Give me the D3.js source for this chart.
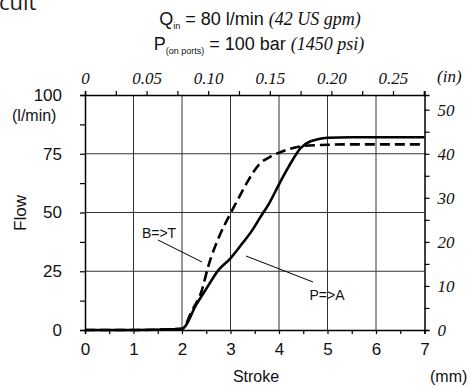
<!DOCTYPE html>
<html>
<head>
<meta charset="utf-8">
<script src="https://cdn.jsdelivr.net/npm/d3@7"></script>
<style>
  body { margin: 0; background: #fff; }
  svg { display: block; }
</style>
</head>
<body>
<script>
// Flow vs spool stroke chart

const w = 470;
const h = 387;

// plot area edges
const plotL = 85, plotR = 424.5, plotT = 95, plotB = 330;

// data (stroke in mm, flow in l/min)
const strokePA = [0, 1, 1.8, 2, 2.3, 2.5, 2.75, 3.0, 3.25, 3.45, 3.6, 3.8, 4.0, 4.2, 4.45, 4.65, 4.8, 5.0, 5.5, 6, 7];
const flowPA   = [0, 0, 0.3, 0.5, 11, 17.5, 25.5, 30.5, 37, 42.5, 47.5, 54, 62, 69.5, 77.5, 80.3, 81.2, 81.8, 82, 82, 82];

const strokeBT = [0, 1, 2, 2.2, 2.41, 2.54, 2.78, 3.0, 3.2, 3.37, 3.61, 3.8, 4.02, 4.5, 4.85, 5.5, 7];
const flowBT   = [0, 0, 0.5, 8, 17, 27, 40.4, 49.6, 57.4, 63.8, 70.9, 73.5, 75.6, 78.3, 78.7, 79, 79];

// tick values
const mmTicks = [0, 1, 2, 3, 4, 5, 6, 7];
const mmMinor = [0.5, 1.5, 2.5, 3.5, 4.5, 5.5, 6.5];
const flowTicks = [0, 25, 50, 75, 100];
const flowMinor = [12.5, 37.5, 62.5, 87.5];
const inTicks = [0, 0.05, 0.10, 0.15, 0.20, 0.25];
const inMinor = [0.025, 0.075, 0.125, 0.175, 0.225, 0.275];
const gpmTicks = [0, 10, 20, 30, 40, 50];
const gpmMinor = [5, 15, 25, 35, 45];

const sans = "'Liberation Sans', Arial, sans-serif";
const serif = "'Liberation Serif', 'Times New Roman', serif";

const svg = d3.select("body")
  .append("svg")
  .attr("width", w)
  .attr("height", h);

// scales
const xScale = d3.scaleLinear().domain([0, 7]).range([plotL, plotR]);
const yScale = d3.scaleLinear().domain([0, 100]).range([plotB, plotT]);
const xIn = d3.scaleLinear().domain([0, 7 / 25.4]).range([plotL, plotR]);
const yGpm = d3.scaleLinear().domain([0, 40 * 100 / 75]).range([plotB, plotT]);

// grid
svg.append("g")
  .selectAll("line")
  .data(mmTicks.slice(1, -1))
  .enter()
  .append("line")
  .attr("x1", d => xScale(d)).attr("x2", d => xScale(d))
  .attr("y1", plotT).attr("y2", plotB)
  .attr("stroke", "#333").attr("stroke-width", 1);

svg.append("g")
  .selectAll("line")
  .data(flowTicks.slice(1, -1))
  .enter()
  .append("line")
  .attr("y1", d => yScale(d)).attr("y2", d => yScale(d))
  .attr("x1", plotL).attr("x2", plotR)
  .attr("stroke", "#333").attr("stroke-width", 1);

// axes helper
function styleAxis(g) {
  g.selectAll(".domain").attr("stroke", "#000").attr("stroke-width", 1.5);
  g.selectAll(".tick line").attr("stroke", "#000").attr("stroke-width", 1.2);
}

// bottom
const bottomAxis = d3.axisBottom(xScale).tickValues(mmTicks).tickSize(4).tickPadding(9).tickFormat(d3.format("d"));
const gBottom = svg.append("g").attr("transform", "translate(0," + plotB + ")").call(bottomAxis);
gBottom.call(styleAxis);
gBottom.selectAll("text").style("font-family", sans).style("font-size", "17px").attr("fill", "#111");
svg.append("g").attr("transform", "translate(0," + plotB + ")")
  .call(d3.axisBottom(xScale).tickValues(mmMinor).tickSize(4).tickFormat(""))
  .call(styleAxis)
  .select(".domain").remove();

// left
const leftAxis = d3.axisLeft(yScale).tickValues(flowTicks).tickSize(5).tickPadding(18);
const gLeft = svg.append("g").attr("transform", "translate(" + plotL + ",0)").call(leftAxis);
gLeft.call(styleAxis);
gLeft.selectAll("text").style("font-family", sans).style("font-size", "17px").attr("fill", "#111");
svg.append("g").attr("transform", "translate(" + plotL + ",0)")
  .call(d3.axisLeft(yScale).tickValues(flowMinor).tickSize(5).tickFormat(""))
  .call(styleAxis)
  .select(".domain").remove();

// top (inches)
const topAxis = d3.axisTop(xIn).tickValues(inTicks).tickSize(4).tickPadding(7)
  .tickFormat(d => d === 0 ? "0" : d3.format(".2f")(d));
const gTop = svg.append("g").attr("transform", "translate(0," + plotT + ")").call(topAxis);
gTop.call(styleAxis);
gTop.selectAll("text").style("font-family", serif).style("font-style", "italic").style("font-size", "17px").attr("fill", "#111");
svg.append("g").attr("transform", "translate(0," + plotT + ")")
  .call(d3.axisTop(xIn).tickValues(inMinor).tickSize(4).tickFormat(""))
  .call(styleAxis)
  .select(".domain").remove();

// right (US gpm)
const rightAxis = d3.axisRight(yGpm).tickValues(gpmTicks).tickSize(5).tickPadding(8);
const gRight = svg.append("g").attr("transform", "translate(" + plotR + ",0)").call(rightAxis);
gRight.call(styleAxis);
gRight.selectAll("text").style("font-family", serif).style("font-style", "italic").style("font-size", "17px").attr("fill", "#111");
svg.append("g").attr("transform", "translate(" + plotR + ",0)")
  .call(d3.axisRight(yGpm).tickValues(gpmMinor).tickSize(5).tickFormat(""))
  .call(styleAxis)
  .select(".domain").remove();

// curves
const line = d3.line()
  .x(d => xScale(d[0]))
  .y(d => yScale(d[1]))
  .curve(d3.curveMonotoneX);

svg.append("path")
  .datum(d3.zip(strokePA, flowPA))
  .attr("d", line)
  .attr("fill", "none")
  .attr("stroke", "#000")
  .attr("stroke-width", 2.6)
  .attr("stroke-linejoin", "round");

svg.append("path")
  .datum(d3.zip(strokeBT, flowBT))
  .attr("d", line)
  .attr("fill", "none")
  .attr("stroke", "#000")
  .attr("stroke-width", 2.6)
  .attr("stroke-dasharray", "10,5");

// curve labels with leader lines
svg.append("text").attr("x", 159).attr("y", 238)
  .style("text-anchor", "middle").style("font-family", sans).style("font-size", "14px")
  .attr("fill", "#111").text("B=>T");
svg.append("line").attr("x1", 158).attr("y1", 240).attr("x2", 202).attr("y2", 262)
  .attr("stroke", "#000").attr("stroke-width", 1);

svg.append("text").attr("x", 327).attr("y", 300)
  .style("text-anchor", "middle").style("font-family", sans).style("font-size", "14px")
  .attr("fill", "#111").text("P=>A");
svg.append("line").attr("x1", 246).attr("y1", 256).attr("x2", 313).attr("y2", 282)
  .attr("stroke", "#000").attr("stroke-width", 1);

// axis titles
svg.append("text")
  .attr("transform", "rotate(-90)")
  .attr("x", -213).attr("y", 26)
  .style("text-anchor", "middle").style("font-family", sans).style("font-size", "17px")
  .attr("fill", "#111").text("Flow");

svg.append("text").attr("x", 12).attr("y", 121)
  .style("font-family", sans).style("font-size", "16px")
  .attr("fill", "#111").text("(l/min)");

svg.append("text").attr("x", 256).attr("y", 382)
  .style("text-anchor", "middle").style("font-family", sans).style("font-size", "16px")
  .attr("fill", "#111").text("Stroke");

svg.append("text").attr("x", 430).attr("y", 382)
  .style("font-family", sans).style("font-size", "16px")
  .attr("fill", "#111").text("(mm)");

svg.append("text").attr("x", 437).attr("y", 82)
  .style("font-family", serif).style("font-style", "italic").style("font-size", "17px")
  .attr("fill", "#111").text("(in)");

// header lines
const t1 = svg.append("text").attr("x", 260).attr("y", 25)
  .style("text-anchor", "middle").style("font-family", sans).style("font-size", "18px").attr("fill", "#111");
t1.append("tspan").text("Q");
t1.append("tspan").attr("dy", 4).style("font-size", "9px").text("in");
t1.append("tspan").attr("dy", -4).text(" = 80 l/min ");
t1.append("tspan").style("font-family", serif).style("font-style", "italic").text("(42 US gpm)");

const t2 = svg.append("text").attr("x", 259).attr("y", 50)
  .style("text-anchor", "middle").style("font-family", sans).style("font-size", "18px").attr("fill", "#111");
t2.append("tspan").text("P");
t2.append("tspan").attr("dy", 4).style("font-size", "9px").text("(on ports)");
t2.append("tspan").attr("dy", -4).text(" = 100 bar ");
t2.append("tspan").style("font-family", serif).style("font-style", "italic").text("(1450 psi)");

// clipped heading left over from the page
svg.append("text").attr("x", -1).attr("y", 10)
  .style("font-family", "'Open Sans', sans-serif").style("font-size", "22px")
  .attr("fill", "#222").text("cuit");
</script>
</body>
</html>
